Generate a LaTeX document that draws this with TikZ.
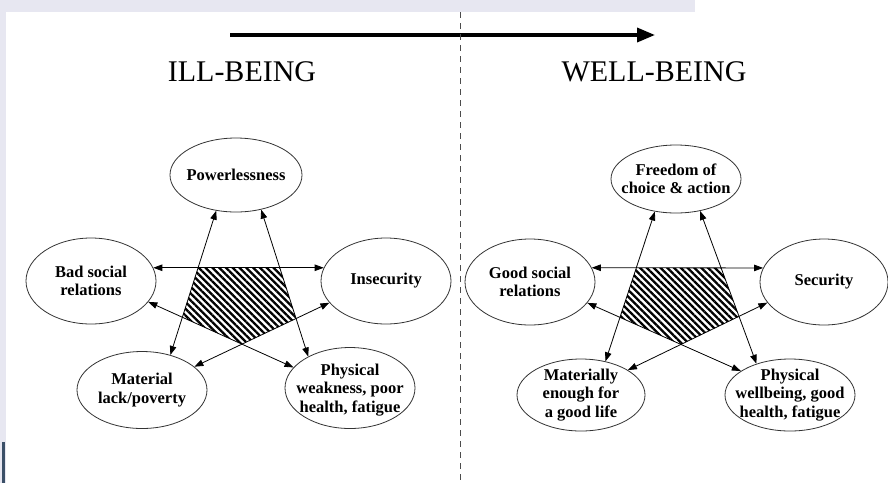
\documentclass[tikz,border=0pt]{standalone}
\usepackage{fontspec}
\setmainfont{Liberation Serif}
\usetikzlibrary{shapes.geometric,arrows.meta,patterns.meta}
\definecolor{lavender}{HTML}{E7E7F1}
\definecolor{slate}{HTML}{3B5068}

\begin{document}
\begin{tikzpicture}[x=1pt, y=-1pt,
oval/.style={ellipse, draw=black!80, line width=0.8pt, inner sep=0pt},
caption/.style={font=\fontsize{16.5}{18.5}\selectfont\bfseries, align=center, inner sep=0pt},
heading/.style={font=\fontsize{30}{30}\selectfont, inner sep=0pt},
link/.style={{Triangle[length=9pt,width=6.5pt]}-{Triangle[length=9pt,width=6.5pt]}, line width=0.8pt},
hatch/.style={pattern={Lines[angle=-45, distance=4.8pt, line width=2.3pt]}}
]
\useasboundingbox (0,0) rectangle (888,483);
%Background
\fill[lavender] (0,0) rectangle (888,483);
\fill[white] (6,12) rectangle (888,483);
\fill[white] (695,0) rectangle (888,12);
\fill[slate] (2,442) rectangle (5,483);

%Top arrow and divider
\coordinate (from) at (230,35);
\coordinate (to)   at (655,35);
\coordinate (top)  at (460,12);
\coordinate (bot)  at (460,483);
\draw[line width=3.5pt, -{Triangle[length=18pt,width=14pt]}] (from) -- (to);
\draw[black!70, line width=0.8pt, dash pattern=on 6pt off 5pt] (top) -- (bot);
\node[heading] (ill)  at (242,72) {ILL-BEING};
\node[heading] (well) at (654,72) {WELL-BEING};

%Nodes (ill-being)
\node[oval, minimum width=132, minimum height=74] (pow) at (236,175)
  [label={[caption]center:Powerlessness}] {};
\node[oval, minimum width=130, minimum height=86] (bad) at (91,281)
  [label={[caption]center:{Bad social\\relations}}] {};
\node[oval, minimum width=130, minimum height=86] (ins) at (386,281)
  [label={[caption]center:Insecurity}] {};
\node[oval, minimum width=130, minimum height=77] (mat) at (142,390)
  [label={[caption]center:{Material\\lack/poverty}}] {};
\node[oval, minimum width=130, minimum height=81] (phy) at (350,388)
  [label={[caption, yshift=-2pt]center:{Physical\\weakness, poor\\health, fatigue}}] {};

%Nodes (well-being)
\node[oval, minimum width=130, minimum height=68] (free) at (676,179)
  [label={[caption]center:{Freedom of\\choice \& action}}] {};
\node[oval, minimum width=130, minimum height=86] (good) at (530,282)
  [label={[caption]center:{Good social\\relations}}] {};
\node[oval, minimum width=128, minimum height=86] (sec) at (824,282)
  [label={[caption]center:Security}] {};
\node[oval, minimum width=128, minimum height=72] (matl) at (581,395)
  [label={[caption]center:{Materially\\enough for\\a good life}}] {};
\node[oval, minimum width=130, minimum height=72] (phw) at (790,395)
  [label={[caption]center:{Physical\\wellbeing, good\\health, fatigue}}] {};

%Hatching
\fill[hatch] (intersection of bad.12--ins.168 and pow.241--mat.51)
  -- (intersection of bad.12--ins.168 and pow.306--phy.143)
  -- (intersection of pow.306--phy.143 and ins.201--mat.24)
  -- (intersection of ins.201--mat.24 and bad.340--phy.160)
  -- (intersection of bad.340--phy.160 and pow.241--mat.51) -- cycle;
\fill[hatch] (intersection of good.13--sec.167 and free.237--matl.54)
  -- (intersection of good.13--sec.167 and free.307--phw.137)
  -- (intersection of free.307--phw.137 and sec.200--matl.28)
  -- (intersection of sec.200--matl.28 and good.340--phw.154)
  -- (intersection of good.340--phw.154 and free.237--matl.54) -- cycle;

%Lines
\draw[link] (pow.241) -- (mat.51);
\draw[link] (pow.306) -- (phy.143);
\draw[link] (bad.12)  -- (ins.168);
\draw[link] (bad.340) -- (phy.160);
\draw[link] (ins.201) -- (mat.24);
\draw[link] (free.237) -- (matl.54);
\draw[link] (free.307) -- (phw.137);
\draw[link] (good.13)  -- (sec.167);
\draw[link] (good.340) -- (phw.154);
\draw[link] (sec.200)  -- (matl.28);
\end{tikzpicture}
\end{document}
